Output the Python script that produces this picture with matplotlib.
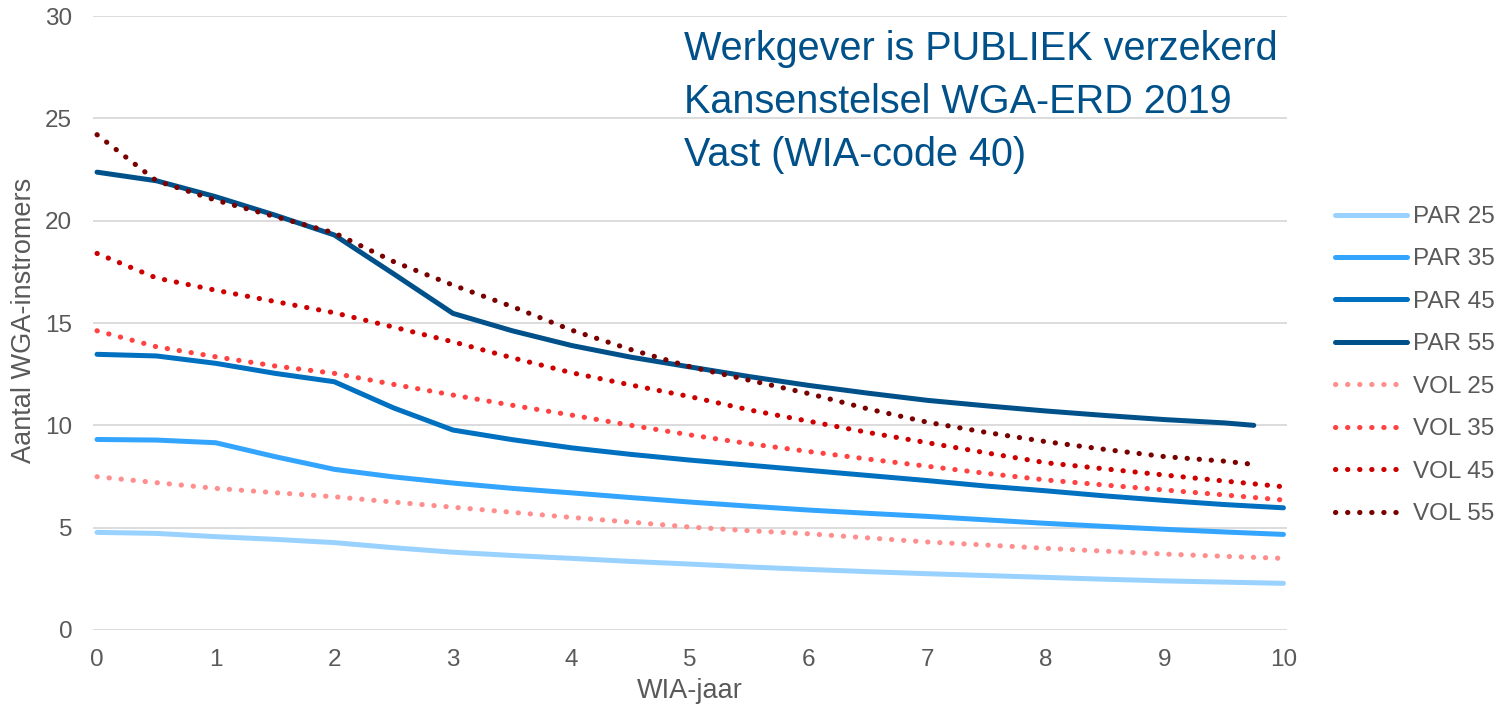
import matplotlib
matplotlib.use("Agg")
import matplotlib.pyplot as plt

plt.rcParams['font.family'] = ['Liberation Sans', 'DejaVu Sans']

# WIA-jaar (half-year steps); the age-55 series stop at 9.75
jaar = [0, 0.5, 1, 1.5, 2, 2.5, 3, 3.5, 4, 4.5, 5, 5.5, 6, 6.5, 7, 7.5, 8, 8.5, 9, 9.5, 10]
jaar_55 = [0, 0.5, 1, 1.5, 2, 2.5, 3, 3.5, 4, 4.5, 5, 5.5, 6, 6.5, 7, 7.5, 8, 8.5, 9, 9.5, 9.75]

par_25 = [4.77, 4.72, 4.56, 4.43, 4.27, 4.02, 3.80, 3.64, 3.50, 3.35, 3.22, 3.08, 2.96, 2.85, 2.75, 2.66, 2.57, 2.48, 2.40, 2.34, 2.28]
par_35 = [9.31, 9.28, 9.15, 8.47, 7.85, 7.48, 7.18, 6.92, 6.70, 6.47, 6.25, 6.05, 5.86, 5.70, 5.55, 5.38, 5.21, 5.06, 4.92, 4.79, 4.67]
par_45 = [13.47, 13.39, 13.03, 12.54, 12.13, 10.85, 9.77, 9.30, 8.90, 8.58, 8.30, 8.05, 7.80, 7.55, 7.30, 7.03, 6.80, 6.55, 6.33, 6.13, 5.97]
par_55 = [22.37, 21.95, 21.17, 20.27, 19.30, 17.40, 15.47, 14.62, 13.90, 13.33, 12.85, 12.38, 11.95, 11.57, 11.22, 10.95, 10.70, 10.48, 10.28, 10.12, 10.00]

vol_25 = [7.49, 7.20, 6.92, 6.71, 6.51, 6.25, 6.00, 5.75, 5.50, 5.27, 5.03, 4.85, 4.70, 4.50, 4.30, 4.15, 3.99, 3.85, 3.71, 3.60, 3.50]
vol_35 = [14.62, 13.84, 13.35, 12.90, 12.54, 12.00, 11.48, 10.98, 10.50, 10.00, 9.53, 9.10, 8.72, 8.35, 8.00, 7.65, 7.33, 7.08, 6.84, 6.60, 6.35]
vol_45 = [18.40, 17.20, 16.60, 16.05, 15.50, 14.80, 14.08, 13.30, 12.57, 11.97, 11.40, 10.75, 10.20, 9.65, 9.15, 8.65, 8.17, 7.87, 7.57, 7.28, 7.00]
vol_55 = [24.20, 21.95, 21.00, 20.20, 19.40, 18.00, 16.85, 15.80, 14.65, 13.70, 12.86, 12.20, 11.55, 10.80, 10.15, 9.65, 9.20, 8.82, 8.47, 8.25, 8.09]

series = [
    ("PAR 25", jaar, par_25, "#99D1FF", "solid"),
    ("PAR 35", jaar, par_35, "#33A5FF", "solid"),
    ("PAR 45", jaar, par_45, "#0070C0", "solid"),
    ("PAR 55", jaar_55, par_55, "#00508A", "solid"),
    ("VOL 25", jaar, vol_25, "#FF8F8F", "dotted"),
    ("VOL 35", jaar, vol_35, "#FF4343", "dotted"),
    ("VOL 45", jaar, vol_45, "#CC0000", "dotted"),
    ("VOL 55", jaar_55, vol_55, "#7A0000", "dotted"),
]

x_ticks = list(range(0, 11))
y_ticks = [0, 5, 10, 15, 20, 25, 30]

tekst = "#595959"
raster = "#D9D9D9"

fig = plt.figure(figsize=(15.01, 7.10), dpi=100)
ax = fig.add_axes([93 / 1501, 1 - 630 / 710, (1287 - 93) / 1501, (630 - 16) / 710])

for naam, xs, ys, kleur, stijl in series:
    if stijl == "solid":
        ax.plot(xs, ys, color=kleur, lw=3.6, solid_capstyle="round",
                solid_joinstyle="round", label=naam)
    else:
        ax.plot(xs, ys, color=kleur, lw=3.7, linestyle=(0, (0.05, 2.3)),
                dash_capstyle="round", label=naam)

ax.set_xlim(-0.034, 10.03)
ax.set_ylim(0, 30)
ax.set_xticks(x_ticks)
ax.set_yticks(y_ticks)
ax.grid(axis="y", color=raster, lw=1.3)
ax.set_axisbelow(True)
for s in ax.spines.values():
    s.set_visible(False)
ax.tick_params(length=0, labelsize=17.5, labelcolor=tekst)
ax.tick_params(axis="x", pad=14)
ax.tick_params(axis="y", pad=15)

ax.set_xlabel("WIA-jaar", fontsize=19.5, color=tekst)
ax.set_ylabel("Aantal WGA-instromers", fontsize=19.5, color=tekst)
ax.xaxis.set_label_coords(0.5, -0.0775)
ax.yaxis.set_label_coords(-0.047, 0.505)

ax.text(0.495, 0.977, "Werkgever is PUBLIEK verzekerd\nKansenstelsel WGA-ERD 2019\nVast (WIA-code 40)",
        transform=ax.transAxes, ha="left", va="top", fontsize=28.5, color="#00508A",
        linespacing=1.5)

leg = fig.legend(loc="upper left", bbox_to_anchor=(1335 / 1501, 1 - 206 / 710),
                 frameon=False, fontsize=17.5, handlelength=2.96, handletextpad=0.25,
                 labelspacing=0.84, borderpad=0, borderaxespad=0)
for t in leg.get_texts():
    t.set_color(tekst)

fig.savefig("out.png", dpi=100)
